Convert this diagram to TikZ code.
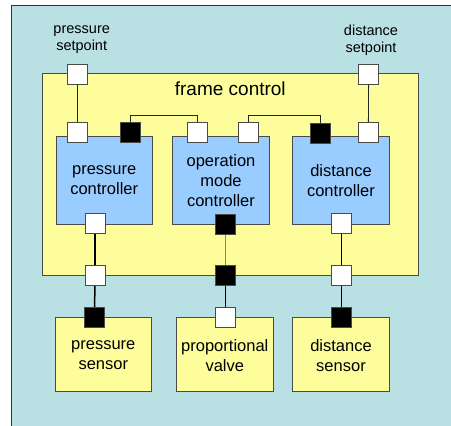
\documentclass[tikz,border=0pt]{standalone}
\usepackage{fontspec}
\setmainfont{Liberation Sans}
\definecolor{bgteal}{HTML}{B9E0E3}
\definecolor{yel}{HTML}{FDFD9B}
\definecolor{blu}{HTML}{99CCFF}
\definecolor{edge}{HTML}{4A4A4A}
\definecolor{olive}{HTML}{8A8A55}
\begin{document}
\begin{tikzpicture}[x=1pt,y=-1pt,
  port/.style={draw=edge,line width=0.9pt,minimum size=20pt,inner sep=0pt,outer sep=0pt},
  wport/.style={port,fill=white},
  bport/.style={port,fill=black},
  ctrl/.style={draw=edge,line width=0.9pt,fill=blu},
  yelbox/.style={draw=edge,line width=0.9pt,fill=yel},
  lbl/.style={font=\fontsize{16.5}{20}\selectfont,align=center,inner sep=0pt},
  small/.style={font=\fontsize{14.5}{17}\selectfont,align=center,inner sep=0pt},
  thin/.style={draw=black!85,line width=0.8pt},
  thick/.style={draw=black,line width=1.5pt}]
\useasboundingbox (0,0) rectangle (451,426);
\clip (0,0) rectangle (451,426);
% outer background
\path[fill=white] (0,0) rectangle (451,426);
\draw[fill=bgteal,draw=black!80,line width=1pt] (11.7,5.7) rectangle (480,460);
% frame
\draw[yelbox] (42.3,73.3) rectangle (418.3,275);
\node[font=\fontsize{19}{22}\selectfont,inner sep=0pt] (fc) at (230.3,89) {frame control};
% controllers
\draw[ctrl] (56,136) rectangle (152.3,224);
\draw[ctrl] (172.7,136) rectangle (269.3,224);
\draw[ctrl] (292.7,136) rectangle (389.3,224);
\node[lbl] (pcl) at (104.2,180.5) {pressure\\controller};
\node[lbl] (ocl) at (221,180.5) {operation\\mode\\controller};
\node[lbl] (dcl) at (341,180.5) {distance\\controller};
% sensors
\draw[yelbox] (55,317.7) rectangle (151.7,391);
\draw[yelbox] (176.7,317.7) rectangle (273,391);
\draw[yelbox] (292.7,317.7) rectangle (389.3,391);
\node[lbl] (psl) at (103.3,355.5) {pressure\\sensor};
\node[lbl] (pvl) at (224.8,355.5) {proportional\\valve};
\node[lbl] (dsl) at (341,355.5) {distance\\sensor};
% setpoint labels
\node[small] (psp) at (81.7,40) {pressure\\setpoint};
\node[small] (dsp) at (371,40) {distance\\setpoint};
% ports (coordinates first, drawn later)
\coordinate (cPST) at (77.7,74);
\coordinate (cDST) at (368.7,74);
\coordinate (cPCin) at (77.7,132.5);
\coordinate (cPCb) at (130.5,132.5);
\coordinate (cOP1) at (197.3,132.5);
\coordinate (cOP2) at (248,132.5);
\coordinate (cDCb) at (320.5,133.5);
\coordinate (cDCin) at (368.3,132.5);
\coordinate (cPCo) at (95,223.7);
\coordinate (cOPo) at (225.5,224.3);
\coordinate (cDCo) at (341.3,223.7);
\coordinate (cFB1) at (95,275.7);
\coordinate (cFB2) at (225.5,275.7);
\coordinate (cFB3) at (341.3,275.7);
\coordinate (cPS) at (94.5,317.2);
\coordinate (cPV) at (225.5,317.2);
\coordinate (cDS) at (341.3,317.2);
\coordinate (j) at (0,115.7);
% connectors
\draw[thin] (cPST) -- (cPCin);
\draw[thin] (cDST) -- (cDCin);
\draw[thin] (cPCb) -- (cPCb |- j) -| (cOP1);
\draw[thin] (cOP2) -- (cOP2 |- j) -| (cDCb);
\draw[thick] (cPCo) -- (cFB1);
\draw[draw=olive,line width=1pt] (cOPo) -- (cFB2);
\draw[thick] (cDCo) -- (cFB3);
\draw[thick] (cFB1) -- (cPS);
\draw[thick] (cFB2) -- (cPV);
\draw[thick] (cFB3) -- (cDS);
% port nodes
\node[wport] (pst) at (cPST) {};
\node[wport] (dst) at (cDST) {};
\node[wport] (pcin) at (cPCin) {};
\node[bport] (pcb) at (cPCb) {};
\node[wport] (op1) at (cOP1) {};
\node[wport] (op2) at (cOP2) {};
\node[bport] (dcb) at (cDCb) {};
\node[wport] (dcin) at (cDCin) {};
\node[wport] (pco) at (cPCo) {};
\node[bport] (opo) at (cOPo) {};
\node[wport] (dco) at (cDCo) {};
\node[wport] (fb1) at (cFB1) {};
\node[bport] (fb2) at (cFB2) {};
\node[wport] (fb3) at (cFB3) {};
\node[bport] (ps) at (cPS) {};
\node[wport] (pv) at (cPV) {};
\node[bport] (ds) at (cDS) {};
\end{tikzpicture}
\end{document}
